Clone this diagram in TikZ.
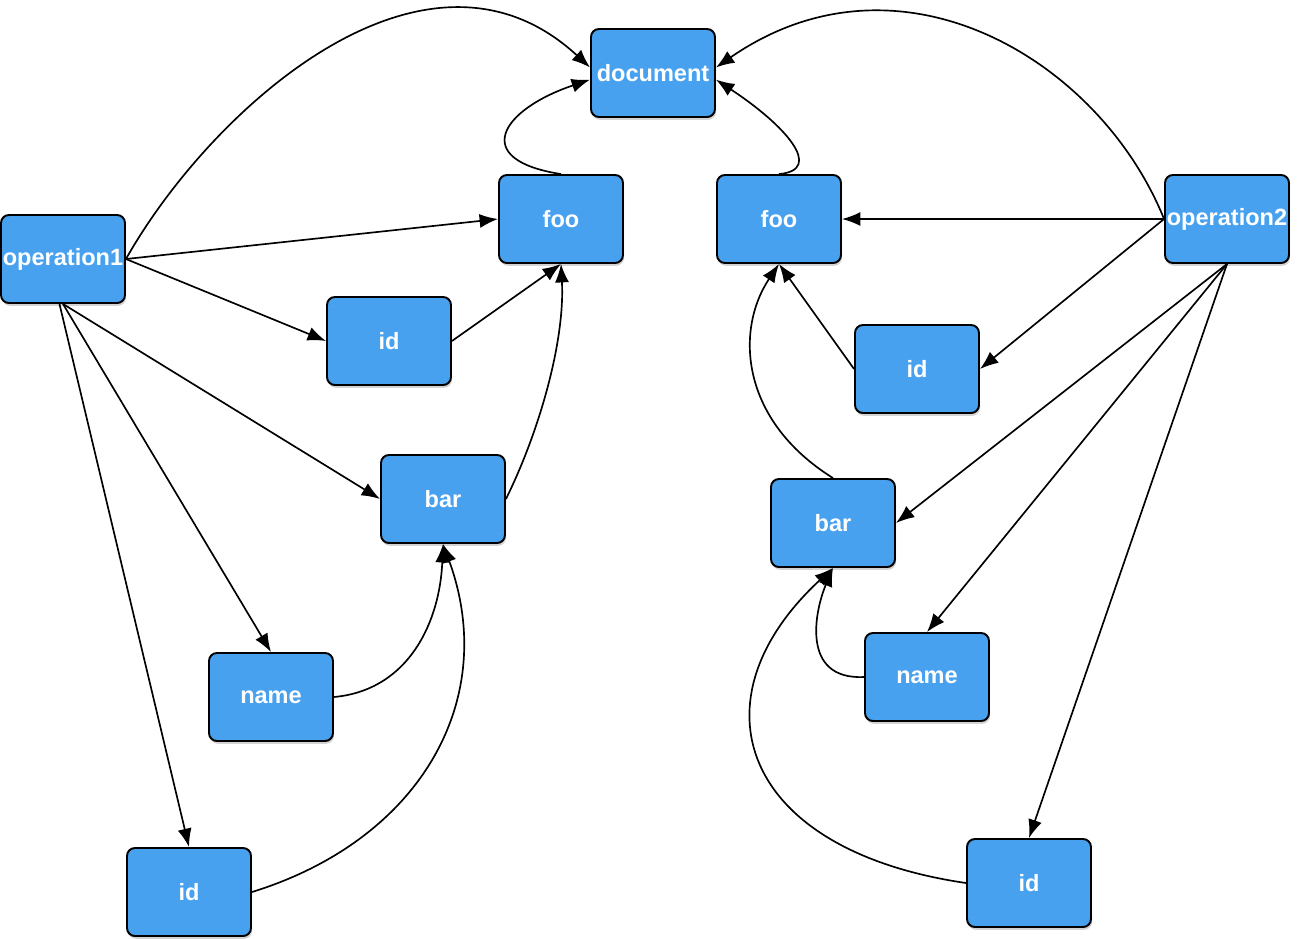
\documentclass[tikz,border=0pt]{standalone}
\usepackage{fontspec}
\setmainfont{Liberation Sans}
\usetikzlibrary{arrows.meta,shadows}
\definecolor{boxblue}{HTML}{48A1EF}
\tikzset{
  box/.style={draw=black, line width=1.1pt, fill=boxblue, rounded corners=4.5pt,
    minimum width=2.48cm, minimum height=1.76cm, inner sep=0pt,
    text=white, font=\fontsize{13.4}{15}\selectfont\bfseries,
    drop shadow={opacity=0.35, shadow xshift=0.6pt, shadow yshift=-1.6pt}},
  link/.style={draw=black, line width=0.95pt, -{Latex[length=10.5pt,width=8pt]}}
}
\begin{document}
\begin{tikzpicture}[x=0.02cm, y=-0.02cm]
\useasboundingbox (0,0) rectangle (1298,938);
\node[box] (doc) at (653,73) {document};
\node[box] (foo1) at (561,219) {foo};
\node[box] (foo2) at (779,219) {foo};
\node[box] (op1) at (63,259) {operation1};
\node[box] (op2) at (1227,219) {operation2};
\node[box] (id1) at (389,341) {id};
\node[box] (id2) at (917,369) {id};
\node[box] (bar1) at (443,499) {bar};
\node[box] (bar2) at (833,523) {bar};
\node[box] (name1) at (271,697) {name};
\node[box] (name2) at (927,677) {name};
\node[box] (id3) at (189,892) {id};
\node[box] (id4) at (1029,883) {id};

% operation1
\draw[link] (op1.east) .. controls (210,110) and (425,-85) .. (doc.175);
\draw[link] (op1.east) -- (foo1.west);
\draw[link] (op1.east) -- (id1.west);
\draw[link] (op1.south) -- (bar1.west);
\draw[link] (op1.south) -- (name1.north);
\draw[link] ([xshift=-2pt]op1.south) -- (id3.north);
% left side
\draw[link] (foo1.north) .. controls (470,160) and (500,110) .. (doc.186);
\draw[link] (id1.east) -- (foo1.south);
\draw[link] (bar1.east) .. controls (540,430) and (565,340) .. (foo1.south);
\draw[link] (name1.east) .. controls (410,690) and (440,620) .. (bar1.south);
\draw[link] (id3.east) .. controls (420,840) and (500,700) .. (bar1.south);
% operation2
\draw[link] (op2.west) .. controls (1100,60) and (900,-60) .. (doc.5);
\draw[link] (op2.west) -- (foo2.east);
\draw[link] (op2.west) -- (id2.east);
\draw[link] (op2.south) -- (bar2.east);
\draw[link] (op2.south) -- (name2.north);
\draw[link] (op2.south) -- (id4.north);
% right side
\draw[link] (foo2.north) .. controls (825,170) and (785,125) .. (doc.-6);
\draw[link] (id2.west) -- (foo2.south);
\draw[link] (bar2.north) .. controls (740,420) and (735,330) .. (foo2.south);
\draw[link] (name2.west) .. controls (800,680) and (815,610) .. (bar2.south);
\draw[link] (id4.west) .. controls (740,850) and (690,700) .. (bar2.south);
\end{tikzpicture}
\end{document}
